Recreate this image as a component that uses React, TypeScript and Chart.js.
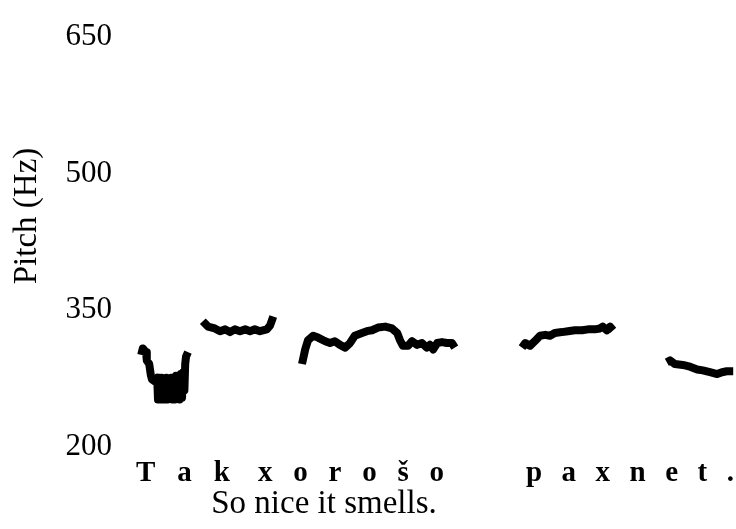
import React, { useEffect, useRef } from "react";
import { Chart, registerables } from "chart.js";

Chart.register(...registerables);

// Time (ms) and pitch (Hz) for each voiced stretch of the contour
const seg1Time = [28, 32, 40, 42, 48, 52, 55, 62, 68, 70, 73, 76, 79, 82, 85, 88, 91, 94, 97, 100, 103, 106, 109, 112, 115, 118, 121, 124, 127, 130, 133, 136, 138, 140, 145];
const seg1Pitch = [301, 308, 304, 295, 291, 279, 274, 272, 276, 252, 276, 252, 276, 252, 274, 252, 276, 252, 274, 254, 276, 252, 276, 252, 278, 254, 278, 252, 280, 254, 282, 262, 291, 299, 304];

const seg2Time = [182, 195, 212, 225, 238, 250, 262, 275, 288, 300, 312, 325, 342, 350, 355, 358];
const seg2Pitch = [338, 332, 330, 327, 329, 326, 329, 327, 329, 327, 329, 327, 329, 333, 339, 343];

const seg3Time = [430, 438, 445, 458, 470, 488, 500, 512, 525, 538, 550, 562, 580, 592, 605, 620, 638, 655, 668, 675, 682, 695, 705, 718, 730, 742, 750, 758, 768, 780, 792, 805, 812];
const seg3Pitch = [291, 307, 317, 322, 320, 316, 314, 316, 312, 309, 314, 322, 325, 327, 328, 331, 332, 330, 325, 317, 311, 311, 316, 312, 314, 309, 312, 307, 314, 315, 314, 314, 309];

const seg4Time = [980, 988, 1000, 1012, 1025, 1038, 1050, 1062, 1080, 1095, 1112, 1130, 1145, 1162, 1175, 1182, 1192, 1200, 1208];
const seg4Pitch = [309, 314, 311, 316, 322, 323, 322, 325, 326, 327, 328, 328, 329, 329, 330, 332, 328, 332, 328];

const seg5Time = [1342, 1350, 1362, 1382, 1400, 1418, 1432, 1450, 1468, 1480, 1492, 1508];
const seg5Pitch = [293, 295, 291, 290, 288, 285, 284, 282, 280, 282, 283, 283];

const yTicks = [200, 350, 500, 650];
const yTitle = "Pitch (Hz)";
const words = ["Tak", "xorošo", "paxnet."];
const translation = "So nice it smells.";

const SERIF = "'Liberation Serif', 'Times New Roman', serif";

export default function App() {
  const ref = useRef<HTMLCanvasElement | null>(null);

  useEffect(() => {
    const canvas = ref.current;
    if (!canvas) return;
    const segs = [
      [seg1Time, seg1Pitch],
      [seg2Time, seg2Pitch],
      [seg3Time, seg3Pitch],
      [seg4Time, seg4Pitch],
      [seg5Time, seg5Pitch],
    ];
    const datasets = segs.map(([t, p], i) => ({
      label: "seg" + (i + 1),
      data: t.map((x, j) => ({ x, y: p[j] })),
      borderColor: "#000",
      backgroundColor: "#000",
      borderWidth: 8,
      borderJoinStyle: "round" as const,
      borderCapStyle: "butt" as const,
      pointRadius: 0,
      tension: 0,
      fill: false,
    }));

    const textPlugin = {
      id: "texts",
      afterDraw(chart: any) {
        const ctx = chart.ctx as CanvasRenderingContext2D;
        const x = chart.scales.x;
        ctx.save();
        ctx.fillStyle = "#000";
        // y axis title
        ctx.save();
        ctx.translate(27, 216);
        ctx.rotate(-Math.PI / 2);
        ctx.font = "33px " + SERIF;
        ctx.textAlign = "center";
        ctx.textBaseline = "middle";
        ctx.fillText(yTitle, 0, 0);
        ctx.restore();
        // transliteration (letter-spaced bold), each word under its voiced stretch
        const spans = [
          [x.getPixelForValue(15), x.getPixelForValue(250)],
          [x.getPixelForValue(320), x.getPixelForValue(785)],
          [x.getPixelForValue(990), x.getPixelForValue(1510)],
        ];
        ctx.font = "bold 29px " + SERIF;
        ctx.textAlign = "left";
        ctx.textBaseline = "alphabetic";
        words.forEach((w, i) => {
          const [a, b] = spans[i];
          const chars = Array.from(w);
          const widths = chars.map((c) => ctx.measureText(c).width);
          const natural = widths.reduce((s, v) => s + v, 0);
          const gap = (b - a - natural) / (chars.length - 1);
          let px = a;
          chars.forEach((c, k) => {
            ctx.fillText(c, px, 481);
            px += widths[k] + gap;
          });
        });
        // translation
        ctx.font = "33px " + SERIF;
        ctx.textAlign = "center";
        ctx.fillText(translation, 324, 513);
        ctx.restore();
      },
    };

    const chart = new Chart(canvas, {
      type: "line",
      data: { datasets },
      options: {
        responsive: false,
        animation: false,
        layout: { padding: { top: 26, bottom: 82, left: 0, right: 0 } },
        plugins: { legend: { display: false }, tooltip: { enabled: false } },
        scales: {
          x: { type: "linear", min: 0, max: 1515, display: false },
          y: {
            type: "linear",
            min: 200,
            max: 650,
            afterFit(scale: any) {
              scale.width = 130;
            },
            afterBuildTicks(scale: any) {
              scale.ticks = yTicks.map((v) => ({ value: v }));
            },
            grid: { display: false, drawTicks: false },
            border: { display: false },
            ticks: {
              color: "#000",
              padding: 18,
              font: { family: SERIF, size: 31 },
            },
          },
        },
      },
      plugins: [textPlugin],
    });
    return () => chart.destroy();
  }, []);

  return (
    <div style={{ position: "fixed", left: 0, top: 0, width: 736, height: 529, background: "#fff" }}>
      <canvas ref={ref} width={736} height={529} />
    </div>
  );
}
